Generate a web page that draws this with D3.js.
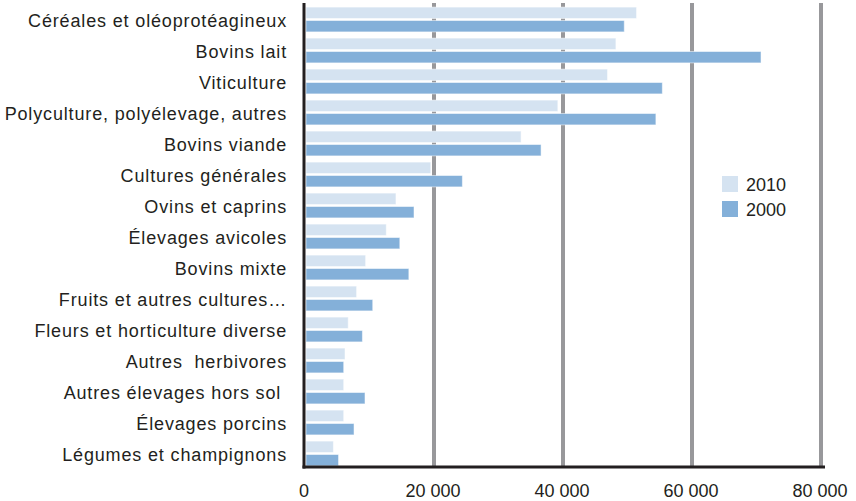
<!DOCTYPE html>
<html>
<head>
<meta charset="utf-8">
<script src="https://cdn.jsdelivr.net/npm/d3@7"></script>
<style>
  body { margin: 0; background: #fff; }
  svg { display: block; font-family: "Liberation Sans", Arial, sans-serif; }
</style>
</head>
<body>
<svg id="chart" width="856" height="501"></svg>
<script>
// data
const categories = [
  "Céréales et oléoprotéagineux",
  "Bovins lait",
  "Viticulture",
  "Polyculture, polyélevage, autres",
  "Bovins viande",
  "Cultures générales",
  "Ovins et caprins",
  "Élevages avicoles",
  "Bovins mixte",
  "Fruits et autres cultures…",
  "Fleurs et horticulture diverse",
  "Autres  herbivores",
  "Autres élevages hors sol ",
  "Élevages porcins",
  "Légumes et champignons"
];
const values2010 = [51400, 48200, 46900, 39200, 33500, 19500, 14100, 12600, 9400, 8000, 6700, 6200, 6000, 6000, 4400];
const values2000 = [49500, 70700, 55400, 54400, 36600, 24400, 16900, 14700, 16100, 10500, 8900, 6000, 9300, 7600, 5200];
const seriesNames = ["2010", "2000"];
const seriesColors = ["#d5e3f1", "#84b0d9"];
const xTicks = [0, 20000, 40000, 60000, 80000];

const svg = d3.select("#chart");
const margin = {left: 305, right: 35, top: 3, bottom: 34};
const width = 856 - margin.left - margin.right;
const height = 501 - margin.top - margin.bottom;

const g = svg.append("g")
  .attr("transform", "translate(" + margin.left + "," + margin.top + ")");

const x = d3.scaleLinear().domain([0, 80000]).range([0, width]);
const y = d3.scaleBand().domain(categories).range([1, height + 2]).paddingInner(0.2).paddingOuter(0.1);
const ySub = d3.scaleBand().domain(seriesNames).range([0, y.bandwidth()]).paddingInner(0.15);

// vertical grid lines
g.selectAll(".grid")
  .data(xTicks.slice(1))
  .enter().append("line")
  .attr("x1", d => x(d)).attr("x2", d => x(d))
  .attr("y1", 0).attr("y2", height)
  .attr("stroke", "#98989b")
  .attr("stroke-width", 4);

// bars
const rows = g.selectAll(".row")
  .data(categories)
  .enter().append("g")
  .attr("transform", d => "translate(0," + y(d) + ")");

[values2010, values2000].forEach((vals, si) => {
  rows.append("rect")
    .attr("x", 1)
    .attr("y", (d) => ySub(seriesNames[si]))
    .attr("width", (d, i) => x(vals[i]) - 1)
    .attr("height", ySub.bandwidth())
    .attr("fill", seriesColors[si])
    .attr("stroke", "#fff")
    .attr("stroke-opacity", 0.5)
    .attr("stroke-width", 1);
});

// category labels
g.selectAll(".cat")
  .data(categories)
  .enter().append("text")
  .attr("x", -18)
  .attr("y", d => y(d) + y.bandwidth() / 2 + 1.5)
  .attr("dy", "0.35em")
  .attr("text-anchor", "end")
  .attr("font-size", 18)
  .attr("letter-spacing", 0.85)
  .attr("fill", "#231f20")
  .style("white-space", "pre")
  .text(d => d);

// axes
g.append("line")
  .attr("x1", -1).attr("x2", -1)
  .attr("y1", 0).attr("y2", height + 1.5)
  .attr("stroke", "#231f20").attr("stroke-width", 3);
g.append("line")
  .attr("x1", -2.5).attr("x2", width + 4)
  .attr("y1", height).attr("y2", height)
  .attr("stroke", "#231f20").attr("stroke-width", 3);

const fmt = d => d3.format(",")(d).replace(/,/g, " ");
g.selectAll(".tick")
  .data(xTicks)
  .enter().append("text")
  .attr("x", d => x(d) - 1)
  .attr("y", height + 24)
  .attr("dy", "0.35em")
  .attr("text-anchor", "middle")
  .attr("font-size", 18)
  .attr("fill", "#231f20")
  .text(fmt);

// legend
const legend = svg.append("g").attr("transform", "translate(722,176)");
seriesNames.forEach((name, i) => {
  legend.append("rect")
    .attr("x", 0).attr("y", i * 25)
    .attr("width", 16).attr("height", 16)
    .attr("fill", seriesColors[i]);
  legend.append("text")
    .attr("x", 24).attr("y", i * 25 + 8.5)
    .attr("dy", "0.35em")
    .attr("font-size", 18)
    .attr("fill", "#231f20")
    .text(name);
});
</script>
</body>
</html>
